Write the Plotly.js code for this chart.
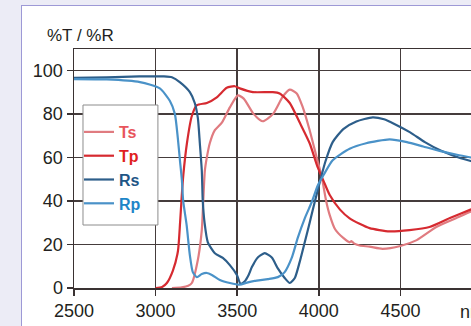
<!DOCTYPE html>
<html>
<head>
<meta charset="utf-8">
<script src="https://cdn.plot.ly/plotly-3.0.1.min.js"></script>
<style>
  html, body { margin: 0; padding: 0; width: 471px; height: 326px; overflow: hidden; background: #ececf6; }
  #panel { position: absolute; left: 21px; top: 5px; width: 600px; height: 400px; background: #ffffff; border: 1.5px solid #9d99d6; box-sizing: border-box; }
  #chart { position: absolute; left: 0; top: 0; width: 520px; height: 326px; }
</style>
</head>
<body>
<div id="panel"></div>
<div id="chart"></div>
<script>
// Wavelength (nm) / percentage readings for each series
const tsWl = [3100, 3160, 3200, 3222, 3259, 3283, 3292, 3302, 3314, 3332, 3363, 3406, 3455, 3504, 3540, 3600, 3657, 3720, 3780, 3822, 3865, 3902, 3944, 3987, 4018, 4045, 4067, 4100, 4150, 4189, 4200, 4215, 4250, 4311, 4390, 4500, 4600, 4720, 4840, 4930, 5000];
const tsVal = [0, 0.3, 1, 2.3, 13, 26.6, 40, 54, 60, 66.5, 72.5, 76, 83, 88.5, 87, 80, 76.6, 80, 88, 91.1, 89.4, 83, 72.5, 60, 51, 40, 33.5, 27, 23, 21, 21.5, 20.5, 19.5, 19, 18, 19.3, 22, 28, 32, 35, 37];

const tpWl = [3000, 3040, 3069, 3106, 3137, 3150, 3160, 3170, 3192, 3222, 3253, 3314, 3375, 3436, 3485, 3516, 3596, 3718, 3760, 3822, 3883, 3944, 3993, 4030, 4067, 4130, 4189, 4250, 4311, 4434, 4556, 4678, 4800, 4930, 5000];
const tpVal = [0, 0.5, 2.3, 8, 17, 30, 42, 52, 66.5, 79, 84, 85, 87.6, 92, 92.7, 91.7, 90, 90, 89.4, 85, 76, 66.5, 55.5, 49, 42.7, 36, 32, 29.5, 27.5, 26, 26.6, 28, 32, 36, 38];

const rsWl = [2500, 2700, 2900, 3050, 3100, 3150, 3210, 3240, 3259, 3271, 3283, 3289, 3300, 3320, 3363, 3412, 3455, 3498, 3520, 3545, 3570, 3590, 3626, 3669, 3712, 3749, 3791, 3822, 3853, 3883, 3914, 3944, 3975, 4006, 4040, 4085, 4150, 4230, 4330, 4400, 4460, 4560, 4650, 4750, 4870, 5000];
const rsVal = [96.5, 96.8, 97.2, 97.2, 96.8, 94.5, 90, 85, 78, 66.5, 54, 40, 30, 21, 16, 13.8, 10.5, 6, 2, 3, 6, 9.6, 14, 16, 14, 9, 4.6, 2.3, 4.6, 12, 21, 30, 39.5, 48.6, 58, 67, 73, 76.5, 78.4, 77.5, 75.5, 71.5, 67, 63, 59.6, 57];

const rpWl = [2500, 2700, 2904, 3026, 3087, 3118, 3136, 3149, 3161, 3169, 3190, 3210, 3228, 3253, 3283, 3314, 3345, 3394, 3455, 3516, 3560, 3620, 3688, 3749, 3791, 3834, 3871, 3914, 3957, 3993, 4030, 4085, 4189, 4290, 4434, 4540, 4640, 4740, 4860, 5000];
const rpVal = [96, 95.8, 94.6, 91.7, 86, 80, 69, 58.7, 49.5, 40, 29, 15, 7.3, 5, 6.4, 6.9, 6, 3.7, 2.3, 1.5, 2.5, 3.4, 4.1, 5, 7.3, 13.8, 23, 32, 39.5, 47, 52, 58.7, 64, 66.5, 68.3, 67, 65, 63, 61, 59];

const seriesNames = ['Ts', 'Tp', 'Rs', 'Rp'];
const lineColors = ['#e07b80', '#d62a30', '#2d5e8a', '#4a92c8'];
const textColors = ['#e8555c', '#e01f22', '#1f5686', '#1e86c8'];
const xTicks = [2500, 3000, 3500, 4000, 4500];
const yTicks = [0, 20, 40, 60, 80, 100];

const xs = [tsWl, tpWl, rsWl, rpWl];
const ys = [tsVal, tpVal, rsVal, rpVal];

const FONT = 'Liberation Sans, Arial, sans-serif';

const traces = seriesNames.map((n, i) => ({
  x: xs[i], y: ys[i], type: 'scatter', mode: 'lines',
  name: '<span style="color:' + textColors[i] + '"><b>' + n + '</b></span>',
  line: { color: lineColors[i], width: 2.2, shape: 'spline', smoothing: 0.6 },
  hoverinfo: 'skip'
}));

const W = 520, H = 326, L = 74, T = 49, B = 38;
const plotW = 408.4;
const plotH = H - T - B;
const px = v => (v - L) / plotW;          // page x pixel -> paper x
const py = v => (H - B - v) / plotH;      // page y pixel -> paper y

const layout = {
  width: W, height: H,
  margin: { l: L, r: W - L - plotW, t: T, b: B, pad: 0 },
  paper_bgcolor: 'rgba(0,0,0,0)',
  plot_bgcolor: '#ffffff',
  font: { family: FONT, size: 18, color: '#231f20' },
  title: {
    text: '%T / %R', font: { family: FONT, size: 17, color: '#231f20' },
    xref: 'container', yref: 'container', x: 47 / W, xanchor: 'left', y: 1 - 35 / H, yanchor: 'middle'
  },
  xaxis: {
    range: [2500, 5000], tickvals: xTicks, ticktext: xTicks.map(String),
    showgrid: true, gridcolor: '#453c3c', gridwidth: 1.5,
    showline: true, linecolor: '#3a3232', linewidth: 1.5, mirror: true,
    ticks: 'outside', ticklen: 6, tickwidth: 1.5, tickcolor: '#3a3232',
    tickfont: { family: FONT, size: 18, color: '#231f20' }, zeroline: false, fixedrange: true
  },
  yaxis: {
    range: [0, 109.8], tickvals: yTicks, ticktext: yTicks.map(String),
    showgrid: true, gridcolor: '#453c3c', gridwidth: 1.5,
    showline: true, linecolor: '#3a3232', linewidth: 1.5, mirror: true,
    ticks: 'outside', ticklen: 6, tickwidth: 1.5, tickcolor: '#3a3232',
    tickfont: { family: FONT, size: 18, color: '#231f20' }, zeroline: false, fixedrange: true
  },
  showlegend: true,
  legend: {
    x: px(79), y: py(115), xanchor: 'left', yanchor: 'top',
    bgcolor: 'rgba(0,0,0,0)', borderwidth: 0,
    font: { family: FONT, size: 16 }, tracegroupgap: 0
  },
  shapes: [{
    type: 'rect', xref: 'paper', yref: 'paper',
    x0: px(83), x1: px(158), y0: py(225), y1: py(105),
    fillcolor: '#ffffff', line: { color: '#8c8c8c', width: 1 }, layer: 'above'
  }],
  annotations: [{
    text: 'nm', xref: 'paper', yref: 'paper', x: px(458), y: py(312),
    xanchor: 'left', yanchor: 'middle', showarrow: false,
    font: { family: FONT, size: 18, color: '#231f20' }
  }]
};

Plotly.newPlot('chart', traces, layout, { staticPlot: true, displayModeBar: false });
</script>
</body>
</html>
